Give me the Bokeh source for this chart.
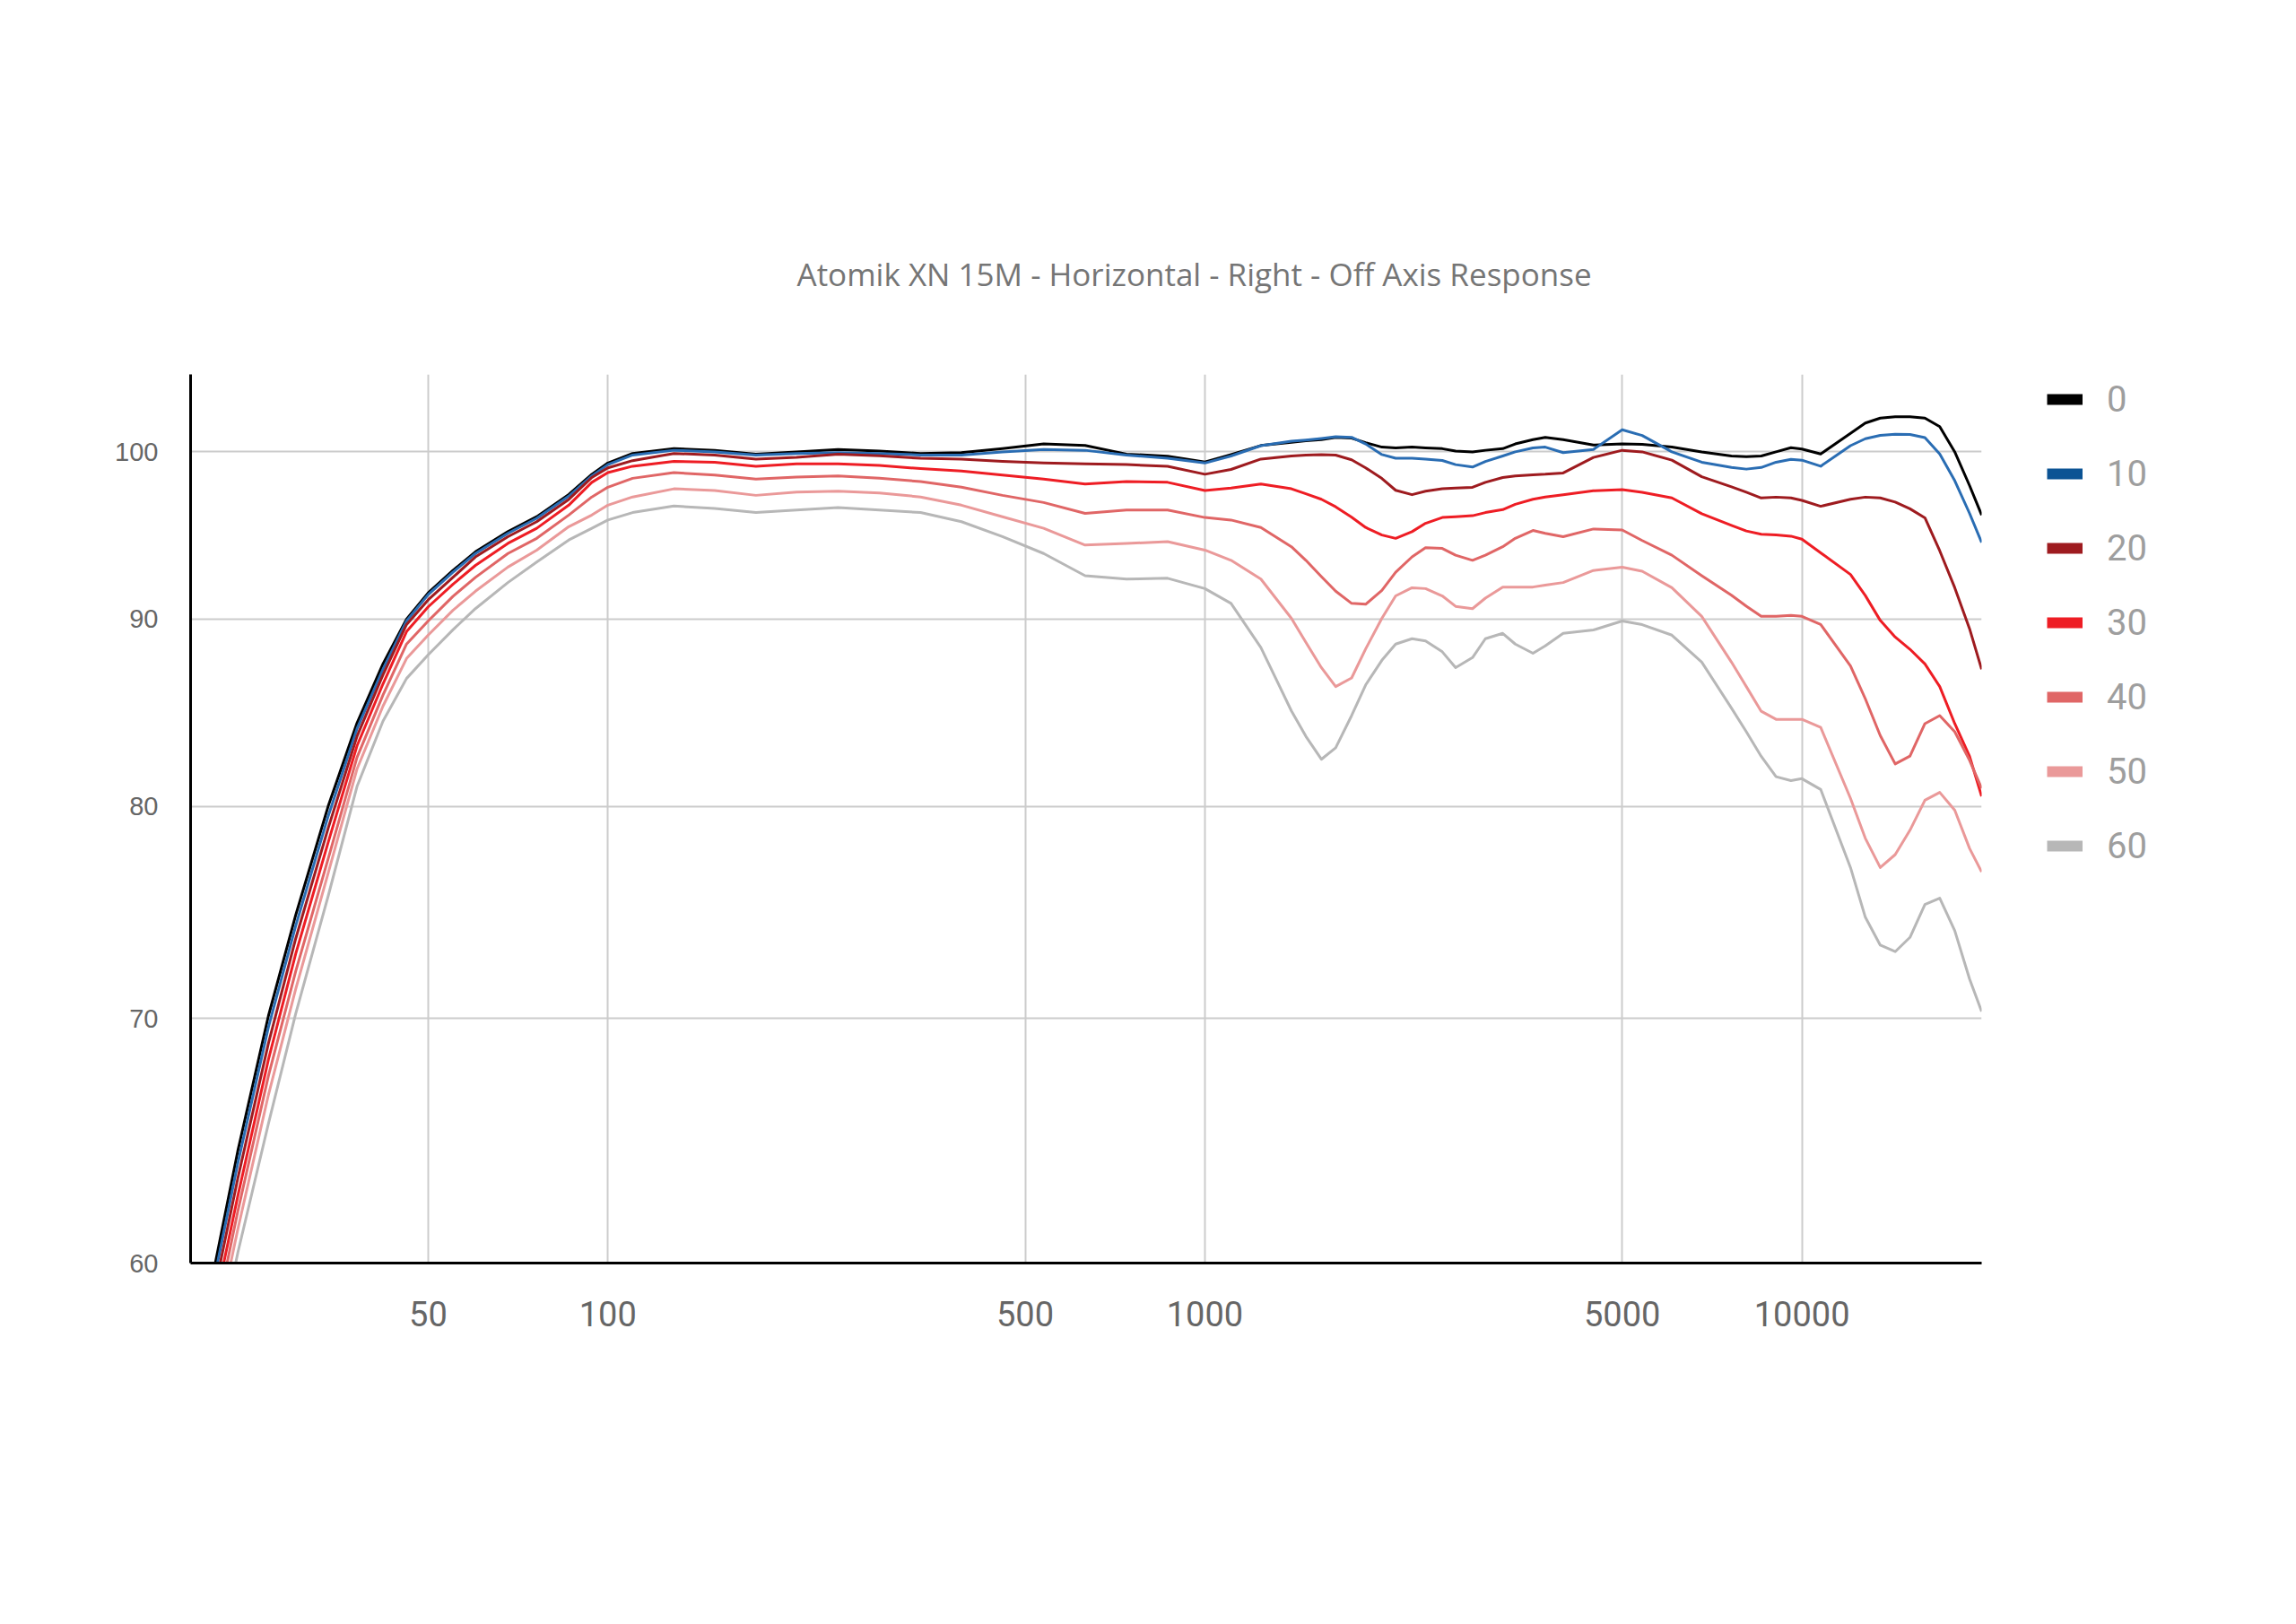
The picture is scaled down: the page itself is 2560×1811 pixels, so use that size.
from bokeh.plotting import figure
from bokeh.models import Range1d, FixedTicker, Legend, LegendItem
from bokeh.embed import file_html
from bokeh.resources import INLINE

title_text = "Atomik XN 15M - Horizontal - Right - Off Axis Response"

freq = [20, 22, 24, 27, 30, 34, 38, 42, 46, 50, 55, 60, 68, 76, 86, 94, 100,
        110, 129, 151, 177, 207, 243, 285, 334, 391, 458, 537, 630, 739, 866, 1000,
        1106, 1241, 1396, 1476, 1567, 1656, 1761, 1859, 1979, 2087, 2223, 2342, 2498, 2630,
        2807, 2950, 3154, 3310, 3544, 3716, 3982, 4474, 5000,
        5400, 6056, 6795, 7620, 8070, 8547, 9050, 9585, 10000, 10750, 12060, 12770, 13527,
        14330, 15170, 16070, 17015, 18030, 19090, 20000]

deg0 = [55.2, 60.0, 64.4, 70.1, 74.7, 80.0, 84.3, 87.5, 90.0, 91.5, 92.8, 93.9, 95.1, 96.0, 97.35, 98.6, 99.3,
        99.9, 100.2, 100.1, 99.86, 100.0, 100.15, 100.05, 99.9, 99.95, 100.2, 100.5, 100.4, 99.86, 99.73, 99.36,
        99.83, 100.4, 100.6, 100.7, 100.77, 100.92, 100.87, 100.58, 100.3, 100.25, 100.3, 100.25, 100.2, 100.05,
        100.0, 100.1, 100.2, 100.5, 100.77, 100.92, 100.77, 100.43, 100.5,
        100.47, 100.31, 100.0, 99.74, 99.7, 99.74, 100.0, 100.26, 100.18, 99.87, 101.17, 101.83, 102.15,
        102.23, 102.23, 102.15, 101.6, 100.0, 97.9, 96.1]

deg10 = [54.8, 59.6, 63.9, 69.6, 74.2, 79.5, 84.0, 87.2, 89.9, 91.4, 92.7, 93.8, 95.0, 95.9, 97.25, 98.5, 99.2,
         99.8, 100.1, 100.0, 99.8, 99.9, 99.95, 99.9, 99.8, 99.8, 100.0, 100.15, 100.1, 99.8, 99.6, 99.3,
         99.74, 100.39, 100.67, 100.75, 100.85, 100.96, 100.92, 100.5, 99.83, 99.6, 99.6, 99.55, 99.46, 99.2,
         99.05, 99.4, 99.74, 100.0, 100.25, 100.3, 99.95, 100.15, 101.4,
         101.04, 100.0, 99.35, 99.02, 98.92, 99.02, 99.35, 99.53, 99.48, 99.1, 100.39, 100.83, 101.04,
         101.12, 101.1, 100.9, 99.87, 98.2, 96.2, 94.45]

deg20 = [54.4, 59.1, 63.3, 68.9, 73.6, 78.9, 83.6, 86.9, 89.7, 91.1, 92.4, 93.6, 94.8, 95.7, 97.05, 98.4, 99.0,
         99.45, 99.9, 99.8, 99.55, 99.65, 99.85, 99.75, 99.6, 99.55, 99.4, 99.3, 99.25, 99.2, 99.1, 98.6,
         98.9, 99.55, 99.74, 99.8, 99.83, 99.8, 99.5, 99.0, 98.34, 97.61, 97.34, 97.55, 97.7, 97.75,
         97.79, 98.1, 98.4, 98.5, 98.57, 98.6, 98.68, 99.65, 100.1,
         100.0, 99.48, 98.45, 97.82, 97.49, 97.14, 97.19, 97.14, 96.99, 96.63, 97.06, 97.19, 97.14,
         96.89, 96.48, 95.93, 93.96, 91.8, 89.46, 87.2]

deg30 = [53.9, 58.5, 62.6, 68.2, 72.9, 78.2, 83.1, 86.4, 89.3, 90.7, 92.0, 93.1, 94.4, 95.3, 96.7, 98.1, 98.7,
         99.1, 99.4, 99.35, 99.1, 99.25, 99.25, 99.15, 98.95, 98.8, 98.55, 98.3, 98.0, 98.15, 98.1, 97.6,
         97.75, 98.0, 97.7, 97.4, 97.06, 96.6, 95.97, 95.35, 94.9, 94.7, 95.1, 95.6, 95.95, 96.0,
         96.06, 96.25, 96.43, 96.75, 97.06, 97.2, 97.34, 97.58, 97.65,
         97.49, 97.14, 96.18, 95.48, 95.14, 94.95, 94.9, 94.83, 94.65, 93.84, 92.57, 91.35, 89.93,
         88.99, 88.31, 87.5, 86.26, 84.27, 82.55, 80.5]

deg40 = [53.3, 57.9, 62.0, 67.5, 72.1, 77.4, 82.5, 85.8, 88.6, 89.9, 91.3, 92.4, 93.8, 94.7, 96.1, 97.2, 97.8,
         98.35, 98.7, 98.55, 98.3, 98.43, 98.5, 98.35, 98.15, 97.8, 97.3, 96.86, 96.2, 96.4, 96.4, 95.95,
         95.8, 95.35, 94.2, 93.4, 92.45, 91.6, 90.9, 90.85, 91.65, 92.7, 93.6, 94.15, 94.1, 93.7,
         93.4, 93.7, 94.2, 94.7, 95.17, 95.0, 94.8, 95.26, 95.2,
         94.57, 93.7, 92.5, 91.37, 90.74, 90.16, 90.16, 90.21, 90.16, 89.7, 87.39, 85.6, 83.64,
         82.16, 82.57, 84.27, 84.7, 83.84, 82.35, 80.9]

deg50 = [52.7, 57.3, 61.3, 66.7, 71.3, 76.7, 81.9, 85.2, 87.8, 89.1, 90.5, 91.6, 93.0, 94.0, 95.4, 96.1, 96.7,
         97.2, 97.7, 97.6, 97.3, 97.5, 97.55, 97.45, 97.2, 96.7, 96.0, 95.3, 94.3, 94.4, 94.5, 94.0,
         93.4, 92.3, 90.05, 88.7, 87.3, 86.26, 86.73, 88.33, 90.05, 91.33, 91.8, 91.75, 91.33, 90.73,
         90.6, 91.2, 91.84, 91.84, 91.84, 91.95, 92.1, 92.8, 93.0,
         92.76, 91.8, 90.16, 87.6, 86.26, 84.93, 84.5, 84.5, 84.5, 84.07, 80.4, 78.4, 76.97,
         77.6, 78.8, 80.3, 80.7, 79.8, 77.9, 76.76]

deg60 = [52.0, 56.4, 60.4, 65.5, 70.2, 75.6, 81.0, 84.4, 86.7, 88.0, 89.4, 90.6, 92.1, 93.3, 94.6, 95.3, 95.8,
         96.25, 96.65, 96.5, 96.25, 96.4, 96.55, 96.4, 96.25, 95.7, 94.8, 93.8, 92.5, 92.3, 92.35, 91.75,
         90.9, 88.41, 84.95, 83.6, 82.4, 83.0, 84.7, 86.35, 87.7, 88.6, 88.9, 88.77, 88.17, 87.3,
         87.85, 88.9, 89.2, 88.6, 88.09, 88.5, 89.2, 89.39, 89.9,
         89.69, 89.1, 87.6, 85.1, 83.84, 82.55, 81.5, 81.3, 81.4, 80.85, 76.97, 74.6, 73.3,
         73.0, 73.66, 75.2, 75.5, 73.97, 71.75, 70.3]

series_names = ["0", "10", "20", "30", "40", "50", "60"]
series_values = [deg0, deg10, deg20, deg30, deg40, deg50, deg60]
line_colors = ["#000000", "#2a6db3", "#9e1b1f", "#ee1d24", "#e06666", "#ea9999", "#b7b7b7"]
legend_colors = ["#000000", "#0b5394", "#9e1b1f", "#ee1d24", "#e06666", "#ea9999", "#b7b7b7"]

x_ticks = [50, 100, 500, 1000, 5000, 10000]
x_tick_labels = ["50", "100", "500", "1000", "5000", "10000"]
y_ticks = [60, 70, 80, 90, 100]
y_tick_labels = ["60", "70", "80", "90", "100"]

p = figure(frame_width=1997, frame_height=991,
           x_axis_type="log", y_axis_type="log",
           x_range=Range1d(20, 20000), y_range=Range1d(60, 105),
           output_backend="svg", toolbar_location=None,
           min_border_left=212, min_border_right=300,
           min_border_top=417, min_border_bottom=387)

p.background_fill_color = "white"
p.border_fill_color = "white"
p.outline_line_color = None

# title (shifted right so it is centred on the whole chart area)
p.title.text = title_text
p.title.align = "left"
p.title.offset = 676
p.title.standoff = 178
p.title.text_font = "Open Sans"
p.title.text_font_size = "35px"
p.title.text_font_style = "normal"
p.title.text_color = "#757575"

# grid
p.xgrid.grid_line_color = "#cccccc"
p.xgrid.grid_line_width = 2
p.ygrid.grid_line_color = "#cccccc"
p.ygrid.grid_line_width = 2

# x axis
p.xaxis.ticker = FixedTicker(ticks=x_ticks)
p.xaxis.major_label_overrides = {t: s for t, s in zip(x_ticks, x_tick_labels)}
p.xaxis.major_tick_line_color = None
p.xaxis.minor_tick_line_color = None
p.xaxis.axis_line_color = "black"
p.xaxis.axis_line_width = 3
p.xaxis.major_label_text_font = "Roboto"
p.xaxis.major_label_text_font_size = "38px"
p.xaxis.major_label_text_color = "#666666"
p.xaxis.major_label_standoff = 36

# y axis
p.yaxis.ticker = FixedTicker(ticks=y_ticks)
p.yaxis.major_label_overrides = {t: s for t, s in zip(y_ticks, y_tick_labels)}
p.yaxis.major_tick_line_color = None
p.yaxis.minor_tick_line_color = None
p.yaxis.axis_line_color = "black"
p.yaxis.axis_line_width = 3
p.yaxis.major_label_text_font = "Liberation Sans"
p.yaxis.major_label_text_font_size = "29px"
p.yaxis.major_label_text_color = "#666666"
p.yaxis.major_label_standoff = 30

# series lines
for vals, col in zip(series_values, line_colors):
    p.line(freq, vals, line_color=col, line_width=3, line_join="round")

# legend with thick swatches (renderers lie outside the visible range; used only as legend glyphs)
items = []
for name, col in zip(series_names, legend_colors):
    r = p.line(x=[20, 25], y=[1, 1], line_color=col, line_width=12)
    items.append(LegendItem(label=name, renderers=[r]))

legend = Legend(items=items, location=(73, 435), orientation="vertical",
                glyph_width=40, glyph_height=60, label_height=60,
                label_standoff=27, spacing=23, padding=0, margin=0,
                border_line_color=None, background_fill_alpha=0,
                label_text_font="Roboto", label_text_font_size="40px",
                label_text_color="#9e9e9e")
p.add_layout(legend, "right")

open("out.html", "w").write(file_html(p, INLINE))
